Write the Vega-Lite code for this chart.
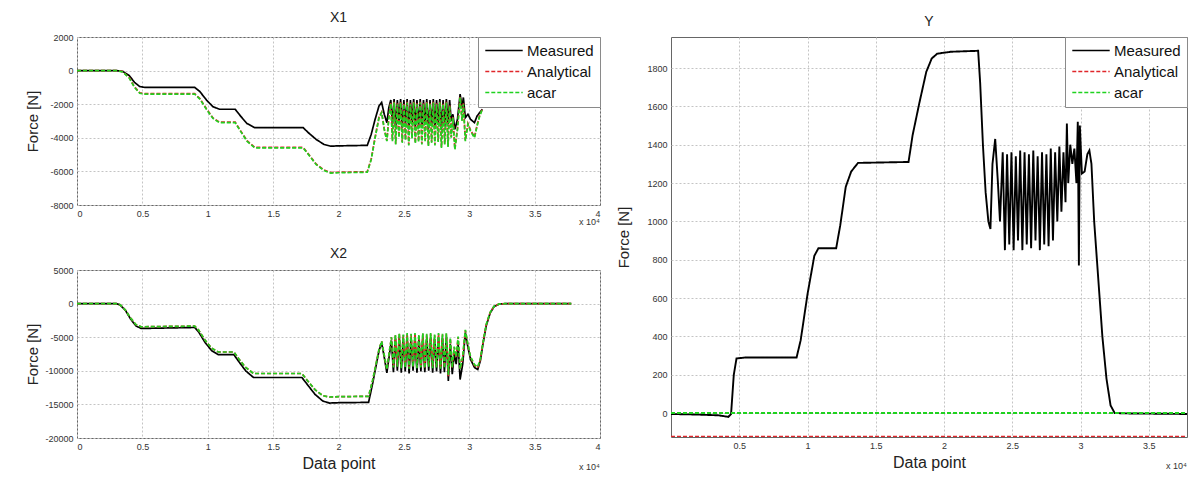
{
"$schema": "https://vega.github.io/schema/vega-lite/v6.json",
"background": "white",
"padding": {"left": 24, "top": 10, "right": 0, "bottom": 0},
"spacing": 14,
"config": {
 "font": "Liberation Sans",
 "view": {"stroke": "#666666", "strokeWidth": 1},
 "axis": {"grid": true, "gridDash": [2, 2], "gridColor": "#c4c4c4", "domain": false, "tickSize": 0, "labelFontSize": 9, "labelColor": "#333333", "titleFontWeight": "normal", "titleColor": "#222222", "labelPadding": 4, "titleFontSize": 15, "labelOverlap": false},
 "title": {"fontSize": 14, "fontWeight": "normal", "color": "#222222", "offset": 8},
 "legend": {"orient": "top-right", "offset": 0, "title": null, "symbolType": "stroke", "symbolSize": 1400, "symbolStrokeWidth": 1.6, "labelFontSize": 15, "labelColor": "#111111", "strokeColor": "#8a8a8a", "fillColor": "white", "padding": 6, "rowPadding": 5, "labelOffset": 3, "clipHeight": 15}
},
"datasets": {
 "x1": [
  {"x":0,"Measured":0,"Analytical":0,"acar":0},
  {"x":3000,"Measured":0,"Analytical":0,"acar":0},
  {"x":3500,"Measured":-50,"Analytical":-60,"acar":-80},
  {"x":4000,"Measured":-300,"Analytical":-420,"acar":-450},
  {"x":4400,"Measured":-700,"Analytical":-970,"acar":-1000},
  {"x":4800,"Measured":-950,"Analytical":-1320,"acar":-1350},
  {"x":5200,"Measured":-1000,"Analytical":-1370,"acar":-1400},
  {"x":9000,"Measured":-1000,"Analytical":-1370,"acar":-1400},
  {"x":9400,"Measured":-1250,"Analytical":-1670,"acar":-1700},
  {"x":9900,"Measured":-1750,"Analytical":-2270,"acar":-2300},
  {"x":10400,"Measured":-2150,"Analytical":-2820,"acar":-2850},
  {"x":10900,"Measured":-2300,"Analytical":-3070,"acar":-3100},
  {"x":12100,"Measured":-2300,"Analytical":-3070,"acar":-3100},
  {"x":12500,"Measured":-2700,"Analytical":-3570,"acar":-3600},
  {"x":13000,"Measured":-3150,"Analytical":-4170,"acar":-4200},
  {"x":13600,"Measured":-3400,"Analytical":-4570,"acar":-4600},
  {"x":17300,"Measured":-3400,"Analytical":-4570,"acar":-4600},
  {"x":17700,"Measured":-3700,"Analytical":-4970,"acar":-5000},
  {"x":18300,"Measured":-4100,"Analytical":-5570,"acar":-5600},
  {"x":18900,"Measured":-4400,"Analytical":-5920,"acar":-5950},
  {"x":19400,"Measured":-4500,"Analytical":-6070,"acar":-6100},
  {"x":20000,"Measured":-4480,"Analytical":-6050,"acar":-6080},
  {"x":22200,"Measured":-4450,"Analytical":-6020,"acar":-6050},
  {"x":22500,"Measured":-3800,"Analytical":-5270,"acar":-5300},
  {"x":22800,"Measured":-2900,"Analytical":-3970,"acar":-4000},
  {"x":23100,"Measured":-2100,"Analytical":-2770,"acar":-2800},
  {"x":23300,"Measured":-1900,"Analytical":-2470,"acar":-2500},
  {"x":23500,"Measured":-2600,"Analytical":-3470,"acar":-3500},
  {"x":23700,"Measured":-3100,"Analytical":-4170,"acar":-4200},
  {"x":23850,"Measured":-2200,"Analytical":-2770,"acar":-2800},
  {"x":24000,"Measured":-1750,"Analytical":-1900,"acar":-1950},
  {"x":24125,"Measured":-3200,"Analytical":-4150,"acar":-4200},
  {"x":24250,"Measured":-1700,"Analytical":-1850,"acar":-1900},
  {"x":24375,"Measured":-3400,"Analytical":-4350,"acar":-4400},
  {"x":24500,"Measured":-1750,"Analytical":-1950,"acar":-2000},
  {"x":24625,"Measured":-3000,"Analytical":-3950,"acar":-4000},
  {"x":24750,"Measured":-1700,"Analytical":-1850,"acar":-1900},
  {"x":24875,"Measured":-3400,"Analytical":-4250,"acar":-4300},
  {"x":25000,"Measured":-1750,"Analytical":-1950,"acar":-2000},
  {"x":25125,"Measured":-3200,"Analytical":-4100,"acar":-4150},
  {"x":25250,"Measured":-1700,"Analytical":-1850,"acar":-1900},
  {"x":25375,"Measured":-3500,"Analytical":-4400,"acar":-4450},
  {"x":25500,"Measured":-1750,"Analytical":-1950,"acar":-2000},
  {"x":25625,"Measured":-3100,"Analytical":-4000,"acar":-4050},
  {"x":25750,"Measured":-1700,"Analytical":-1850,"acar":-1900},
  {"x":25875,"Measured":-3400,"Analytical":-4300,"acar":-4350},
  {"x":26000,"Measured":-1750,"Analytical":-1950,"acar":-2000},
  {"x":26125,"Measured":-3300,"Analytical":-4200,"acar":-4250},
  {"x":26250,"Measured":-1700,"Analytical":-1850,"acar":-1900},
  {"x":26375,"Measured":-3400,"Analytical":-4350,"acar":-4400},
  {"x":26500,"Measured":-1750,"Analytical":-1950,"acar":-2000},
  {"x":26625,"Measured":-3200,"Analytical":-4150,"acar":-4200},
  {"x":26750,"Measured":-1700,"Analytical":-1850,"acar":-1900},
  {"x":26875,"Measured":-3500,"Analytical":-4450,"acar":-4500},
  {"x":27000,"Measured":-1750,"Analytical":-1950,"acar":-2000},
  {"x":27125,"Measured":-3300,"Analytical":-4250,"acar":-4300},
  {"x":27250,"Measured":-1700,"Analytical":-1850,"acar":-1900},
  {"x":27375,"Measured":-3400,"Analytical":-4400,"acar":-4450},
  {"x":27500,"Measured":-1750,"Analytical":-1950,"acar":-2000},
  {"x":27625,"Measured":-3200,"Analytical":-4200,"acar":-4250},
  {"x":27750,"Measured":-1700,"Analytical":-1850,"acar":-1900},
  {"x":27875,"Measured":-3500,"Analytical":-4550,"acar":-4600},
  {"x":28000,"Measured":-1750,"Analytical":-1950,"acar":-2000},
  {"x":28125,"Measured":-3300,"Analytical":-4350,"acar":-4400},
  {"x":28250,"Measured":-1700,"Analytical":-1850,"acar":-1900},
  {"x":28375,"Measured":-3200,"Analytical":-4500,"acar":-4550},
  {"x":28500,"Measured":-1750,"Analytical":-2050,"acar":-2100},
  {"x":28620,"Measured":-3000,"Analytical":-3950,"acar":-4000},
  {"x":28750,"Measured":-2600,"Analytical":-2750,"acar":-2800},
  {"x":28900,"Measured":-3500,"Analytical":-4650,"acar":-4700},
  {"x":29100,"Measured":-2900,"Analytical":-3450,"acar":-3500},
  {"x":29300,"Measured":-1400,"Analytical":-1550,"acar":-1600},
  {"x":29450,"Measured":-2200,"Analytical":-2950,"acar":-3000},
  {"x":29550,"Measured":-1600,"Analytical":-1950,"acar":-2000},
  {"x":29700,"Measured":-2800,"Analytical":-4150,"acar":-4200},
  {"x":29900,"Measured":-2600,"Analytical":-3150,"acar":-3200},
  {"x":30100,"Measured":-2900,"Analytical":-3550,"acar":-3600},
  {"x":30400,"Measured":-3100,"Analytical":-3950,"acar":-4000},
  {"x":30600,"Measured":-2700,"Analytical":-3250,"acar":-3300},
  {"x":30800,"Measured":-2500,"Analytical":-2650,"acar":-2700},
  {"x":31000,"Measured":-2300,"Analytical":-2300,"acar":-2300}
 ],
 "x2": [
  {"x":0,"Measured":0,"Analytical":0,"acar":0},
  {"x":3000,"Measured":0,"Analytical":0,"acar":0},
  {"x":3300,"Measured":-200,"Analytical":-180,"acar":-180},
  {"x":3700,"Measured":-1000,"Analytical":-950,"acar":-950},
  {"x":4100,"Measured":-2300,"Analytical":-2150,"acar":-2150},
  {"x":4500,"Measured":-3300,"Analytical":-3100,"acar":-3100},
  {"x":4900,"Measured":-3700,"Analytical":-3450,"acar":-3450},
  {"x":9000,"Measured":-3550,"Analytical":-3350,"acar":-3350},
  {"x":9300,"Measured":-4200,"Analytical":-3950,"acar":-3950},
  {"x":9800,"Measured":-5800,"Analytical":-5450,"acar":-5450},
  {"x":10300,"Measured":-7000,"Analytical":-6650,"acar":-6650},
  {"x":10800,"Measured":-7600,"Analytical":-7200,"acar":-7200},
  {"x":12000,"Measured":-7600,"Analytical":-7200,"acar":-7200},
  {"x":12400,"Measured":-8700,"Analytical":-8300,"acar":-8300},
  {"x":12900,"Measured":-10000,"Analytical":-9500,"acar":-9500},
  {"x":13500,"Measured":-11000,"Analytical":-10400,"acar":-10400},
  {"x":17200,"Measured":-11000,"Analytical":-10400,"acar":-10400},
  {"x":17600,"Measured":-12000,"Analytical":-11400,"acar":-11400},
  {"x":18200,"Measured":-13500,"Analytical":-12800,"acar":-12800},
  {"x":18800,"Measured":-14500,"Analytical":-13700,"acar":-13700},
  {"x":19300,"Measured":-14800,"Analytical":-13900,"acar":-13900},
  {"x":20000,"Measured":-14750,"Analytical":-13850,"acar":-13850},
  {"x":22300,"Measured":-14700,"Analytical":-13800,"acar":-13800},
  {"x":22600,"Measured":-12000,"Analytical":-11500,"acar":-11500},
  {"x":22900,"Measured":-9000,"Analytical":-8700,"acar":-8700},
  {"x":23100,"Measured":-7000,"Analytical":-6800,"acar":-6800},
  {"x":23300,"Measured":-5800,"Analytical":-5600,"acar":-5600},
  {"x":23500,"Measured":-8000,"Analytical":-7700,"acar":-7700},
  {"x":23700,"Measured":-10300,"Analytical":-9800,"acar":-9800},
  {"x":23900,"Measured":-7500,"Analytical":-7000,"acar":-7000},
  {"x":24050,"Measured":-5500,"Analytical":-5000,"acar":-5000},
  {"x":24200,"Measured":-10200,"Analytical":-9400,"acar":-9500},
  {"x":24350,"Measured":-5200,"Analytical":-4700,"acar":-4600},
  {"x":24500,"Measured":-10000,"Analytical":-9300,"acar":-9400},
  {"x":24650,"Measured":-5000,"Analytical":-4500,"acar":-4400},
  {"x":24800,"Measured":-10300,"Analytical":-9500,"acar":-9600},
  {"x":24950,"Measured":-5200,"Analytical":-4700,"acar":-4600},
  {"x":25100,"Measured":-10100,"Analytical":-9400,"acar":-9500},
  {"x":25250,"Measured":-5000,"Analytical":-4500,"acar":-4400},
  {"x":25400,"Measured":-10400,"Analytical":-9600,"acar":-9700},
  {"x":25550,"Measured":-5100,"Analytical":-4600,"acar":-4500},
  {"x":25700,"Measured":-10000,"Analytical":-9300,"acar":-9400},
  {"x":25850,"Measured":-5000,"Analytical":-4500,"acar":-4400},
  {"x":26000,"Measured":-10300,"Analytical":-9500,"acar":-9600},
  {"x":26150,"Measured":-5200,"Analytical":-4700,"acar":-4600},
  {"x":26300,"Measured":-10100,"Analytical":-9400,"acar":-9500},
  {"x":26450,"Measured":-5000,"Analytical":-4500,"acar":-4400},
  {"x":26600,"Measured":-10200,"Analytical":-9500,"acar":-9600},
  {"x":26750,"Measured":-5100,"Analytical":-4600,"acar":-4500},
  {"x":26900,"Measured":-10000,"Analytical":-9300,"acar":-9400},
  {"x":27050,"Measured":-5000,"Analytical":-4500,"acar":-4400},
  {"x":27200,"Measured":-10300,"Analytical":-9500,"acar":-9600},
  {"x":27350,"Measured":-5200,"Analytical":-4700,"acar":-4600},
  {"x":27500,"Measured":-10100,"Analytical":-9400,"acar":-9500},
  {"x":27650,"Measured":-5000,"Analytical":-4500,"acar":-4400},
  {"x":27800,"Measured":-10400,"Analytical":-9600,"acar":-9700},
  {"x":27950,"Measured":-5100,"Analytical":-4600,"acar":-4500},
  {"x":28100,"Measured":-10200,"Analytical":-9500,"acar":-9600},
  {"x":28250,"Measured":-5000,"Analytical":-4500,"acar":-4400},
  {"x":28400,"Measured":-11500,"Analytical":-10800,"acar":-10600},
  {"x":28550,"Measured":-6000,"Analytical":-5200,"acar":-5100},
  {"x":28700,"Measured":-10500,"Analytical":-9600,"acar":-9500},
  {"x":28850,"Measured":-7500,"Analytical":-6500,"acar":-6400},
  {"x":29000,"Measured":-9000,"Analytical":-8000,"acar":-7900},
  {"x":29150,"Measured":-6000,"Analytical":-5000,"acar":-4900},
  {"x":29300,"Measured":-11300,"Analytical":-9800,"acar":-9700},
  {"x":29500,"Measured":-9000,"Analytical":-8000,"acar":-7900},
  {"x":29700,"Measured":-4300,"Analytical":-4000,"acar":-3900},
  {"x":29900,"Measured":-6500,"Analytical":-6200,"acar":-6100},
  {"x":30100,"Measured":-8300,"Analytical":-8000,"acar":-7900},
  {"x":30400,"Measured":-9500,"Analytical":-9200,"acar":-9100},
  {"x":30650,"Measured":-9800,"Analytical":-9500,"acar":-9400},
  {"x":30850,"Measured":-8500,"Analytical":-8300,"acar":-8200},
  {"x":31050,"Measured":-6000,"Analytical":-5800,"acar":-5800},
  {"x":31300,"Measured":-3300,"Analytical":-3100,"acar":-3100},
  {"x":31600,"Measured":-1400,"Analytical":-1300,"acar":-1300},
  {"x":31900,"Measured":-450,"Analytical":-400,"acar":-400},
  {"x":32300,"Measured":-60,"Analytical":-50,"acar":-50},
  {"x":32800,"Measured":0,"Analytical":0,"acar":0},
  {"x":37800,"Measured":0,"Analytical":0,"acar":0}
 ],
 "y": [
  {"x":0,"Measured":-5,"Analytical":-124,"acar":0},
  {"x":2000,"Measured":-8,"Analytical":-124,"acar":0},
  {"x":3500,"Measured":-12,"Analytical":-124,"acar":0},
  {"x":4200,"Measured":-20,"Analytical":-124,"acar":0},
  {"x":4400,"Measured":-5,"Analytical":-124,"acar":0},
  {"x":4600,"Measured":200,"Analytical":-124,"acar":0},
  {"x":4800,"Measured":285,"Analytical":-124,"acar":0},
  {"x":5500,"Measured":290,"Analytical":-124,"acar":0},
  {"x":9200,"Measured":290,"Analytical":-124,"acar":0},
  {"x":9500,"Measured":380,"Analytical":-124,"acar":0},
  {"x":10000,"Measured":620,"Analytical":-124,"acar":0},
  {"x":10500,"Measured":820,"Analytical":-124,"acar":0},
  {"x":10800,"Measured":860,"Analytical":-124,"acar":0},
  {"x":12100,"Measured":860,"Analytical":-124,"acar":0},
  {"x":12400,"Measured":980,"Analytical":-124,"acar":0},
  {"x":12800,"Measured":1180,"Analytical":-124,"acar":0},
  {"x":13200,"Measured":1260,"Analytical":-124,"acar":0},
  {"x":13700,"Measured":1305,"Analytical":-124,"acar":0},
  {"x":17400,"Measured":1310,"Analytical":-124,"acar":0},
  {"x":17700,"Measured":1450,"Analytical":-124,"acar":0},
  {"x":18200,"Measured":1620,"Analytical":-124,"acar":0},
  {"x":18700,"Measured":1780,"Analytical":-124,"acar":0},
  {"x":19100,"Measured":1850,"Analytical":-124,"acar":0},
  {"x":19500,"Measured":1875,"Analytical":-124,"acar":0},
  {"x":20500,"Measured":1885,"Analytical":-124,"acar":0},
  {"x":22500,"Measured":1890,"Analytical":-124,"acar":0},
  {"x":22650,"Measured":1720,"Analytical":-124,"acar":0},
  {"x":22850,"Measured":1400,"Analytical":-124,"acar":0},
  {"x":23050,"Measured":1150,"Analytical":-124,"acar":0},
  {"x":23250,"Measured":1000,"Analytical":-124,"acar":0},
  {"x":23400,"Measured":960,"Analytical":-124,"acar":0},
  {"x":23550,"Measured":1300,"Analytical":-124,"acar":0},
  {"x":23750,"Measured":1430,"Analytical":-124,"acar":0},
  {"x":23950,"Measured":1200,"Analytical":-124,"acar":0},
  {"x":24100,"Measured":1000,"Analytical":-124,"acar":0},
  {"x":24300,"Measured":1360,"Analytical":-124,"acar":0},
  {"x":24460,"Measured":850,"Analytical":-124,"acar":0},
  {"x":24620,"Measured":1350,"Analytical":-124,"acar":0},
  {"x":24780,"Measured":880,"Analytical":-124,"acar":0},
  {"x":24940,"Measured":1360,"Analytical":-124,"acar":0},
  {"x":25100,"Measured":850,"Analytical":-124,"acar":0},
  {"x":25260,"Measured":1340,"Analytical":-124,"acar":0},
  {"x":25420,"Measured":900,"Analytical":-124,"acar":0},
  {"x":25580,"Measured":1370,"Analytical":-124,"acar":0},
  {"x":25740,"Measured":850,"Analytical":-124,"acar":0},
  {"x":25900,"Measured":1360,"Analytical":-124,"acar":0},
  {"x":26060,"Measured":880,"Analytical":-124,"acar":0},
  {"x":26220,"Measured":1350,"Analytical":-124,"acar":0},
  {"x":26380,"Measured":860,"Analytical":-124,"acar":0},
  {"x":26540,"Measured":1370,"Analytical":-124,"acar":0},
  {"x":26700,"Measured":900,"Analytical":-124,"acar":0},
  {"x":26860,"Measured":1340,"Analytical":-124,"acar":0},
  {"x":27020,"Measured":850,"Analytical":-124,"acar":0},
  {"x":27180,"Measured":1360,"Analytical":-124,"acar":0},
  {"x":27340,"Measured":880,"Analytical":-124,"acar":0},
  {"x":27500,"Measured":1350,"Analytical":-124,"acar":0},
  {"x":27660,"Measured":870,"Analytical":-124,"acar":0},
  {"x":27820,"Measured":1380,"Analytical":-124,"acar":0},
  {"x":27980,"Measured":900,"Analytical":-124,"acar":0},
  {"x":28140,"Measured":1360,"Analytical":-124,"acar":0},
  {"x":28300,"Measured":1000,"Analytical":-124,"acar":0},
  {"x":28450,"Measured":1390,"Analytical":-124,"acar":0},
  {"x":28600,"Measured":1050,"Analytical":-124,"acar":0},
  {"x":28750,"Measured":1360,"Analytical":-124,"acar":0},
  {"x":28900,"Measured":1100,"Analytical":-124,"acar":0},
  {"x":29000,"Measured":1510,"Analytical":-124,"acar":0},
  {"x":29100,"Measured":1200,"Analytical":-124,"acar":0},
  {"x":29250,"Measured":1400,"Analytical":-124,"acar":0},
  {"x":29400,"Measured":1300,"Analytical":-124,"acar":0},
  {"x":29550,"Measured":1380,"Analytical":-124,"acar":0},
  {"x":29700,"Measured":1200,"Analytical":-124,"acar":0},
  {"x":29800,"Measured":1520,"Analytical":-124,"acar":0},
  {"x":29880,"Measured":770,"Analytical":-124,"acar":0},
  {"x":29950,"Measured":1500,"Analytical":-124,"acar":0},
  {"x":30100,"Measured":1250,"Analytical":-124,"acar":0},
  {"x":30300,"Measured":1260,"Analytical":-124,"acar":0},
  {"x":30500,"Measured":1350,"Analytical":-124,"acar":0},
  {"x":30650,"Measured":1370,"Analytical":-124,"acar":0},
  {"x":30800,"Measured":1300,"Analytical":-124,"acar":0},
  {"x":31000,"Measured":1000,"Analytical":-124,"acar":0},
  {"x":31300,"Measured":700,"Analytical":-124,"acar":0},
  {"x":31600,"Measured":400,"Analytical":-124,"acar":0},
  {"x":31900,"Measured":180,"Analytical":-124,"acar":0},
  {"x":32200,"Measured":40,"Analytical":-124,"acar":0},
  {"x":32500,"Measured":0,"Analytical":-124,"acar":0},
  {"x":33500,"Measured":-2,"Analytical":-124,"acar":0},
  {"x":37800,"Measured":-5,"Analytical":-124,"acar":0}
 ]
},
"resolve": {"scale": {"color": "independent", "strokeDash": "independent"}, "legend": {"color": "independent", "strokeDash": "independent"}},
"hconcat": [
 {
  "vconcat": [
   {
    "width": 523, "height": 168,
    "title": {"text": "X1", "offset": 8},
    "encoding": {
     "x": {"field": "x", "type": "quantitative", "scale": {"domain": [0, 40000], "nice": false}, "axis": {"values": [0, 5000, 10000, 15000, 20000, 25000, 30000, 35000, 40000], "labelExpr": "datum.value/10000", "title": null}},
     "y": {"field": "y", "type": "quantitative", "scale": {"domain": [-8000, 2000], "nice": false}, "axis": {"values": [-8000, -6000, -4000, -2000, 0, 2000], "labelExpr": "'' + datum.value", "title": "Force [N]", "titleX": -37, "labelOverlap": false}}
    },
    "layer": [
     {
      "data": {"name": "x1"},
      "transform": [{"fold": ["Measured", "Analytical", "acar"], "as": ["s", "y"]}],
      "mark": {"type": "line", "strokeWidth": 1.7, "clip": true},
      "encoding": {
       "color": {"field": "s", "type": "nominal", "scale": {"domain": ["Measured", "Analytical", "acar"], "range": ["#000000", "#e0262a", "#1fd21f"]}},
       "strokeDash": {"field": "s", "type": "nominal", "scale": {"domain": ["Measured", "Analytical", "acar"], "range": [[1, 0], [4, 2], [4, 2]]}}
      }
     },
     {
      "data": {"values": [{"x": 40000, "y": -8000, "t": "x 10⁴"}]},
      "mark": {"type": "text", "align": "right", "baseline": "top", "dy": 13, "fontSize": 9, "color": "#333333"},
      "encoding": {"text": {"field": "t"}}
     }
    ]
   },
   {
    "width": 523, "height": 168,
    "title": {"text": "X2", "offset": 5},
    "encoding": {
     "x": {"field": "x", "type": "quantitative", "scale": {"domain": [0, 40000], "nice": false}, "axis": {"values": [0, 5000, 10000, 15000, 20000, 25000, 30000, 35000, 40000], "labelExpr": "datum.value/10000", "title": "Data point", "titleFontSize": 16, "titlePadding": 4}},
     "y": {"field": "y", "type": "quantitative", "scale": {"domain": [-20000, 5000], "nice": false}, "axis": {"values": [-20000, -15000, -10000, -5000, 0, 5000], "labelExpr": "'' + datum.value", "title": "Force [N]", "titleX": -37, "labelOverlap": false}}
    },
    "layer": [
     {
      "data": {"name": "x2"},
      "transform": [{"fold": ["Measured", "Analytical", "acar"], "as": ["s", "y"]}],
      "mark": {"type": "line", "strokeWidth": 1.7, "clip": true},
      "encoding": {
       "color": {"field": "s", "type": "nominal", "scale": {"domain": ["Measured", "Analytical", "acar"], "range": ["#000000", "#e0262a", "#1fd21f"]}, "legend": null},
       "strokeDash": {"field": "s", "type": "nominal", "scale": {"domain": ["Measured", "Analytical", "acar"], "range": [[1, 0], [4, 2], [4, 2]]}, "legend": null}
      }
     },
     {
      "data": {"values": [{"x": 40000, "y": -20000, "t": "x 10⁴"}]},
      "mark": {"type": "text", "align": "right", "baseline": "top", "dy": 25, "fontSize": 9, "color": "#333333"},
      "encoding": {"text": {"field": "t"}}
     }
    ]
   }
  ],
  "spacing": 18,
  "resolve": {"scale": {"color": "independent", "strokeDash": "independent"}, "legend": {"color": "independent", "strokeDash": "independent"}}
 },
 {
  "width": 516, "height": 400,
  "title": {"text": "Y", "offset": 8},
  "encoding": {
   "x": {"field": "x", "type": "quantitative", "scale": {"domain": [0, 37800], "nice": false}, "axis": {"values": [5000, 10000, 15000, 20000, 25000, 30000, 35000], "labelExpr": "datum.value/10000", "title": "Data point", "titleFontSize": 16, "titlePadding": 4}},
   "y": {"field": "y", "type": "quantitative", "scale": {"domain": [-125, 1962], "nice": false}, "axis": {"values": [0, 200, 400, 600, 800, 1000, 1200, 1400, 1600, 1800], "labelExpr": "'' + datum.value", "title": "Force [N]", "titleX": -40, "labelOverlap": false}}
  },
  "layer": [
   {
    "data": {"name": "y"},
    "transform": [{"fold": ["Measured", "Analytical", "acar"], "as": ["s", "y"]}],
    "mark": {"type": "line", "strokeWidth": 1.9, "clip": true},
    "encoding": {
     "color": {"field": "s", "type": "nominal", "scale": {"domain": ["Measured", "Analytical", "acar"], "range": ["#000000", "#e0262a", "#1fd21f"]}},
     "strokeDash": {"field": "s", "type": "nominal", "scale": {"domain": ["Measured", "Analytical", "acar"], "range": [[1, 0], [4, 2], [4, 2]]}}
    }
   },
   {
    "data": {"values": [{"x": 37800, "y": -125, "t": "x 10⁴"}]},
    "mark": {"type": "text", "align": "right", "baseline": "top", "dy": 25, "fontSize": 9, "color": "#333333"},
    "encoding": {"text": {"field": "t"}}
   }
  ]
 }
]
}
